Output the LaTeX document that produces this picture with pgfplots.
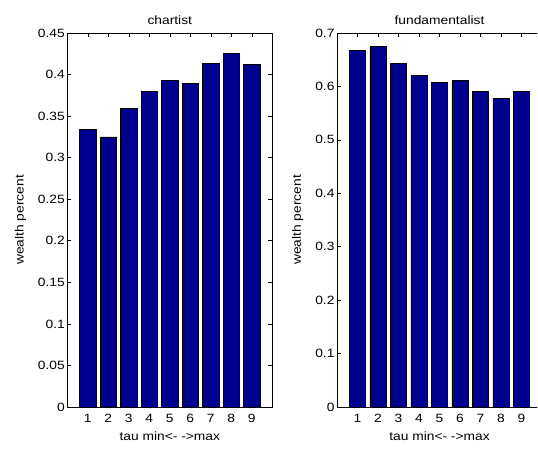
\documentclass[border=0pt]{standalone}
\usepackage{fontspec}
\setmainfont{Liberation Sans}[FakeStretch=1.15]
\usepackage{pgfplots}
\pgfplotsset{compat=1.18}
\definecolor{matblue}{RGB}{0,0,143}
\begin{document}
\begin{tikzpicture}[x=1pt,y=1pt,font=\fontsize{12}{14}\selectfont]
\pgfplotsset{
  mystyle/.style={
    scale only axis,
    width=205pt, height=374pt,
    anchor=south west,
    xmin=0, xmax=10,
    ymin=0,
    xtick={1,2,3,4,5,6,7,8,9},
    ybar, bar width=0.8, bar shift=0pt,
    axis line style={line width=0.8pt},
    major tick length=4pt,
    tick style={black, line width=0.6pt},
    tick align=inside,
    tick pos=both,
    scaled y ticks=false,
    /pgf/number format/assume math mode=true,
    yticklabel style={/pgf/number format/fixed, /pgf/number format/precision=2, xshift=1pt},
    xticklabel style={yshift=-4pt},
    xlabel={tau min<- ->max},
    ylabel={wealth percent},
    xlabel style={yshift=-2pt},
    ylabel style={yshift=5pt},
    every tick label/.append style={font=\fontsize{12}{14}\selectfont},
    label style={font=\fontsize{12}{14}\selectfont},
    title style={font=\fontsize{12}{14}\selectfont, yshift=-1pt},
  }
}
\path[use as bounding box] (0,0) rectangle (538,448);
\clip (0,0) rectangle (537,448);
\begin{axis}[mystyle, at={(67.3pt,41pt)}, ymax=0.45, ytick={0,0.05,...,0.451}, title={chartist}]
\addplot[fill=matblue, draw=black, line width=0.6pt] coordinates {(1,0.334) (2,0.325) (3,0.359) (4,0.380) (5,0.393) (6,0.389) (7,0.413) (8,0.425) (9,0.412)};
\end{axis}
\begin{axis}[mystyle, at={(337pt,41pt)}, ymax=0.7, ytick={0,0.1,...,0.71}, title={fundamentalist}]
\addplot[fill=matblue, draw=black, line width=0.6pt] coordinates {(1,0.667) (2,0.675) (3,0.643) (4,0.620) (5,0.608) (6,0.611) (7,0.590) (8,0.577) (9,0.590)};
\end{axis}
\end{tikzpicture}
\end{document}
